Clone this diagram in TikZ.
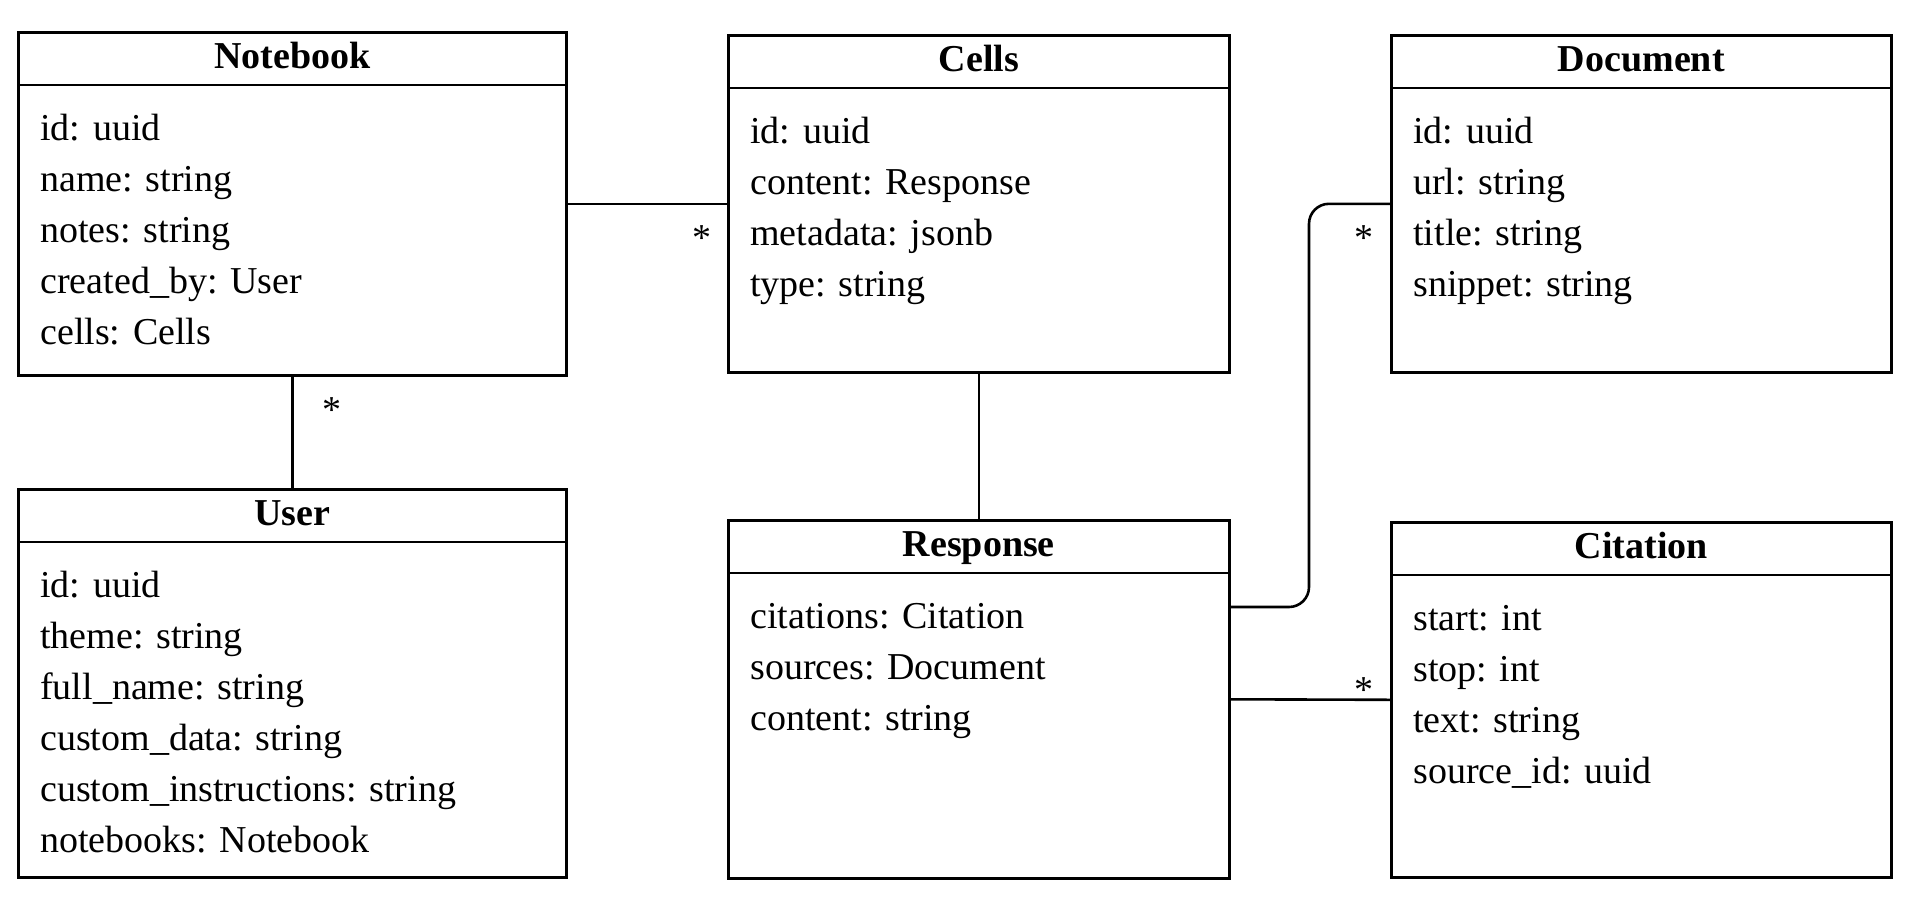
\documentclass[tikz,border=0pt]{standalone}
\usepackage{fontspec}
\setmainfont{Liberation Serif}

\begin{document}
\begin{tikzpicture}[x=1pt,y=-1pt,line width=2.6pt,
    classbox/.style={draw, anchor=north west, inner sep=0pt},
    classtitle/.style={anchor=base, inner sep=0pt, font=\fontsize{38}{46}\selectfont\bfseries},
    attr/.style={anchor=base west, inner sep=0pt, font=\fontsize{38}{46}\selectfont},
    mult/.style={anchor=base, inner sep=0pt, font=\fontsize{38}{46}\selectfont}]
  \useasboundingbox (0,0) rectangle (1920,911);

  % classes
  \node[classbox, minimum width=548pt, minimum height=343pt] (notebook) at (17,31) {};
  \node[classbox, minimum width=501pt, minimum height=337pt] (cells) at (727,34) {};
  \node[classbox, minimum width=500pt, minimum height=337pt] (document) at (1390,34) {};
  \node[classbox, minimum width=548pt, minimum height=388pt] (user) at (17,488) {};
  \node[classbox, minimum width=501pt, minimum height=358pt] (response) at (727,519) {};
  \node[classbox, minimum width=500pt, minimum height=355pt] (citation) at (1390,521) {};

  \node[classtitle] at ([yshift=-37pt]notebook.north) {Notebook};
  \node[classtitle] at ([yshift=-37pt]cells.north) {Cells};
  \node[classtitle] at ([yshift=-37pt]document.north) {Document};
  \node[classtitle] at ([yshift=-37pt]user.north) {User};
  \node[classtitle] at ([yshift=-37pt]response.north) {Response};
  \node[classtitle] at ([yshift=-37pt]citation.north) {Citation};

  \foreach \c in {notebook,cells,document,user,response,citation}
    \draw ([yshift=-54pt]\c.north west) -- ([yshift=-54pt]\c.north east);

  % attributes
  \foreach \t [count=\i] in {id: uuid, name: string, notes: string, created\_by: User, cells: Cells}
    \node[attr] at ([shift={(22,{109+51*(\i-1)})}]notebook.north west) {\t};
  \foreach \t [count=\i] in {id: uuid, content: Response, metadata: jsonb, type: string}
    \node[attr] at ([shift={(22,{109+51*(\i-1)})}]cells.north west) {\t};
  \foreach \t [count=\i] in {id: uuid, url: string, title: string, snippet: string}
    \node[attr] at ([shift={(22,{109+51*(\i-1)})}]document.north west) {\t};
  \foreach \t [count=\i] in {id: uuid, theme: string, full\_name: string, custom\_data: string, custom\_instructions: string, notebooks: Notebook}
    \node[attr] at ([shift={(22,{109+51*(\i-1)})}]user.north west) {\t};
  \foreach \t [count=\i] in {citations: Citation, sources: Document, content: string}
    \node[attr] at ([shift={(22,{109+51*(\i-1)})}]response.north west) {\t};
  \foreach \t [count=\i] in {start: int, stop: int, text: string, source\_id: uuid}
    \node[attr] at ([shift={(22,{109+51*(\i-1)})}]citation.north west) {\t};

  % associations
  \draw (notebook.east) -- (cells.west);
  \draw (notebook.south) -- (user.north);
  \draw (cells.south) -- (response.north);
  \draw (response.east) -- (citation.west);
  \draw[rounded corners=20pt] ([yshift=-88pt]response.north east) -| ([xshift=-81pt]document.west) -- (document.west);

  \node[mult] (mcells) at ([shift={(-25,47)}]cells.west) {*};
  \node[mult] (mnotebook) at ([shift={(40,46)}]notebook.south) {*};
  \node[mult] (mdocument) at ([shift={(-26,47)}]document.west) {*};
  \node[mult] (mcitation) at ([shift={(-26,3)}]citation.west) {*};
\end{tikzpicture}
\end{document}
